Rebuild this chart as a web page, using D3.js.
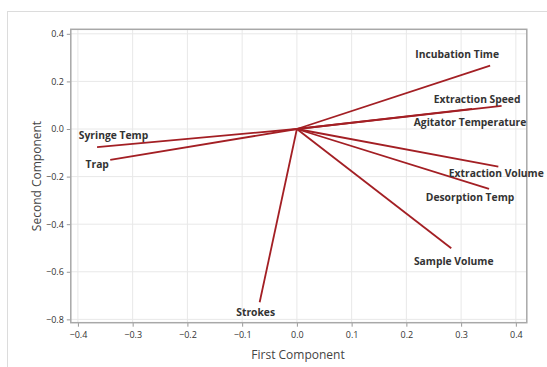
<!DOCTYPE html>
<html><head><meta charset="utf-8">
<script src="https://cdn.jsdelivr.net/npm/d3@7"></script>
<style>body{margin:0;background:#fff}svg{display:block}</style>
</head><body>
<script>
const variables = ["Incubation Time","Extraction Speed","Agitator Temperature","Extraction Volume","Desorption Temp","Sample Volume","Strokes","Syringe Temp","Trap"];
const firstComp  = [0.353, 0.374, 0.320, 0.368, 0.351, 0.282, -0.068, -0.365, -0.341];
const secondComp = [0.266, 0.097, 0.085, -0.158, -0.252, -0.501, -0.728, -0.076, -0.130];
const xTicks = [-0.4,-0.3,-0.2,-0.1,0.0,0.1,0.2,0.3,0.4];
const yTicks = [0.4,0.2,0.0,-0.2,-0.4,-0.6,-0.8];
// label offsets (px) relative to vector end (layout)
const labelDx = [-33,-24.5,-2,-2,-19,2.5,-4,16.4,-13];
const labelDy = [-12,-7,13,6,8,13,10,-12,4];

const W=547,H=367;
const svg=d3.select("body").append("svg").attr("width",W).attr("height",H);
svg.append("rect").attr("x",7.5).attr("y",11.5).attr("width",W).attr("height",H).attr("fill","#fff").attr("stroke","#dcdcdc");

const L=70.8,R=526.8,T=29.3,B=322.7;
const x=d3.scaleLinear().domain([-0.413,0.42]).range([L,R]);
const y=d3.scaleLinear().domain([-0.814,0.419]).range([B,T]);

const g=svg.append("g");
g.selectAll(".vg").data(xTicks).join("line").attr("x1",d=>x(d)).attr("x2",d=>x(d)).attr("y1",T).attr("y2",B).attr("stroke","#e8e8e8");
g.selectAll(".hg").data(yTicks).join("line").attr("y1",d=>y(d)).attr("y2",d=>y(d)).attr("x1",L).attr("x2",R).attr("stroke","#e8e8e8");

const fmt=d3.format(".1f");
const xa=svg.append("g").attr("transform",`translate(0,${B})`).call(d3.axisBottom(x).tickValues(xTicks).tickFormat(fmt).tickSize(4).tickSizeOuter(0));
const ya=svg.append("g").attr("transform",`translate(${L},0)`).call(d3.axisLeft(y).tickValues(yTicks).tickFormat(fmt).tickSize(4).tickSizeOuter(0));
[xa,ya].forEach(a=>{a.select(".domain").remove();a.selectAll("line").attr("stroke","#999");a.selectAll("text").attr("fill","#333").style("font-family","'Open Sans',sans-serif").style("font-size","9px");});
xa.selectAll("text").attr("dy","0.9em");

svg.append("rect").attr("x",L).attr("y",T).attr("width",R-L).attr("height",B-T).attr("fill","none").attr("stroke","#a8a8a8").attr("stroke-width",1.5);

const idx=d3.range(variables.length);
svg.append("g").selectAll("line").data(idx).join("line")
  .attr("x1",x(0)).attr("y1",y(0)).attr("x2",i=>x(firstComp[i])).attr("y2",i=>y(secondComp[i]))
  .attr("stroke","#a31f24").attr("stroke-width",1.8);

svg.append("g").selectAll("text").data(idx).join("text")
  .attr("x",i=>x(firstComp[i])+labelDx[i]).attr("y",i=>y(secondComp[i])+labelDy[i])
  .attr("text-anchor","middle").attr("dominant-baseline","central")
  .attr("fill","#333").style("font-family","'Open Sans',sans-serif").style("font-weight","bold").style("font-size","10.3px")
  .text(i=>variables[i]);

svg.append("text").attr("x",298).attr("y",354).attr("text-anchor","middle").attr("dominant-baseline","central")
  .attr("fill","#444").style("font-family","'Open Sans',sans-serif").style("font-size","12px").text("First Component");
svg.append("text").attr("transform","translate(36,176) rotate(-90)").attr("text-anchor","middle").attr("dominant-baseline","central")
  .attr("fill","#444").style("font-family","'Open Sans',sans-serif").style("font-size","12px").text("Second Component");
</script>
</body></html>
